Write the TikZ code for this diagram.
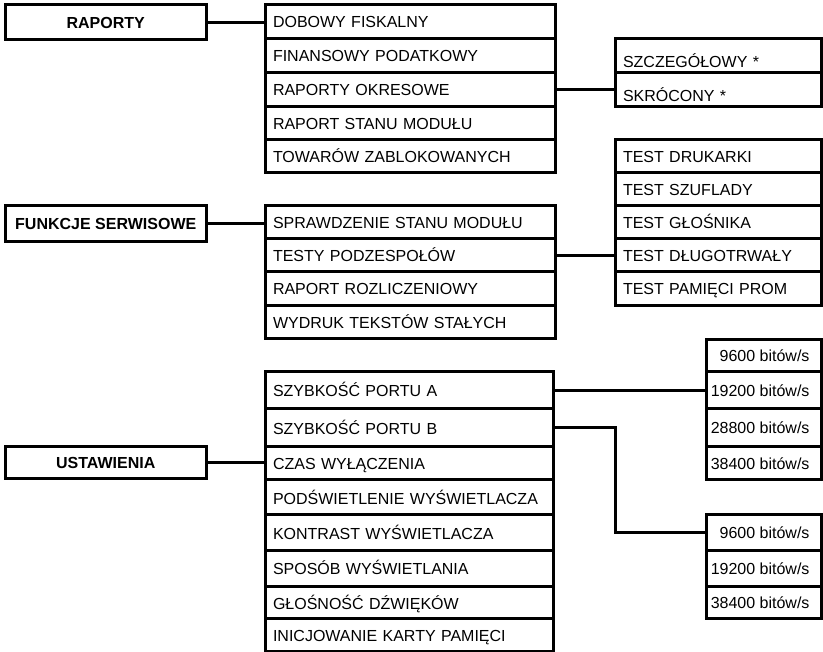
\documentclass[tikz,border=0pt]{standalone}
\usepackage{fontspec}
\setmainfont{Liberation Sans}
\newcommand\baudtext[1]{\makebox[115.5pt][r]{#1\hspace{12pt}}}
\begin{document}
\begin{tikzpicture}[x=1pt,y=-1pt,
  box/.style={draw, line width=3pt, inner sep=0pt, outer sep=0pt, anchor=north west,
    font=\fontsize{16}{19}\selectfont, text height=12pt, text depth=0pt},
  head/.style={box, font=\fontsize{16}{19}\selectfont\bfseries, minimum width=201.5pt, minimum height=#1},
  lrow/.style={box, text width=274pt, inner xsep=8pt, align=left, minimum height=#1},
  lrowb/.style={box, text width=272pt, inner xsep=8pt, align=left, minimum height=#1, text height=13.5pt},
  rrow/.style={box, text width=190.5pt, inner xsep=8pt, align=left, minimum height=#1},
  baud/.style={box, inner xsep=0pt, minimum width=115.5pt, minimum height=#1},
  conn/.style={line width=3pt}]
\useasboundingbox (0,0) rectangle (823,652);

% headers
\node[head=34.5pt] (hrap) at (5,5) {RAPORTY};
\node[head=36pt] (hfun) at (5,205.5) {FUNKCJE SERWISOWE};
\node[head=31.5pt] (hust) at (5,447) {USTAWIENIA};

% RAPORTY submenu
\node[lrow=33.5pt] (r1a) at (265,5) {DOBOWY FISKALNY};
\node[lrow=34pt] (r1b) at (265,38.5) {FINANSOWY PODATKOWY};
\node[lrow=34pt] (r1c) at (265,72.5) {RAPORTY OKRESOWE};
\node[lrow=33.5pt] (r1d) at (265,106.5) {RAPORT STANU MODUŁU};
\node[lrow=33pt] (r1e) at (265,140) {TOWARÓW ZABLOKOWANYCH};

% RAPORTY OKRESOWE submenu
\node[rrow=34pt, text height=25pt] (s1) at (615,38.5) {SZCZEGÓŁOWY *};
\node[rrow=34pt, text height=25pt] (s2) at (615,72.5) {SKRÓCONY *};

% tests
\node[rrow=33.5pt] (t1) at (615,139.5) {TEST DRUKARKI};
\node[rrow=33pt] (t2) at (615,173) {TEST SZUFLADY};
\node[rrow=32.5pt] (t3) at (615,206) {TEST GŁOŚNIKA};
\node[rrow=33.5pt] (t4) at (615,238.5) {TEST DŁUGOTRWAŁY};
\node[rrow=34pt] (t5) at (615,272) {TEST PAMIĘCI PROM};

% FUNKCJE SERWISOWE submenu
\node[lrow=32.5pt] (r2a) at (265,206) {SPRAWDZENIE STANU MODUŁU};
\node[lrow=33.5pt] (r2b) at (265,238.5) {TESTY PODZESPOŁÓW};
\node[lrow=34pt] (r2c) at (265,272) {RAPORT ROZLICZENIOWY};
\node[lrow=32.5pt] (r2d) at (265,306) {WYDRUK TEKSTÓW STAŁYCH};

% USTAWIENIA submenu
\node[lrowb=36.5pt] (r3a) at (265,372) {SZYBKOŚĆ PORTU A};
\node[lrowb=38pt] (r3b) at (265,408.5) {SZYBKOŚĆ PORTU B};
\node[lrowb=33.5pt] (r3c) at (265,446.5) {CZAS WYŁĄCZENIA};
\node[lrowb=35pt] (r3d) at (265,480) {PODŚWIETLENIE WYŚWIETLACZA};
\node[lrowb=35.5pt] (r3e) at (265,515) {KONTRAST WYŚWIETLACZA};
\node[lrowb=35.5pt] (r3f) at (265,550.5) {SPOSÓB WYŚWIETLANIA};
\node[lrowb=32.5pt] (r3g) at (265,586) {GŁOŚNOŚĆ DŹWIĘKÓW};
\node[lrowb=32.5pt] (r3h) at (265,618.5) {INICJOWANIE KARTY PAMIĘCI};

% port A speeds
\node[baud=32pt] (a1) at (706,340) {\baudtext{9600 bitów/s}};
\node[baud=36.5pt] (a2) at (706,372) {\baudtext{19200 bitów/s}};
\node[baud=38pt] (a3) at (706,408.5) {\baudtext{28800 bitów/s}};
\node[baud=33.5pt] (a4) at (706,446.5) {\baudtext{38400 bitów/s}};

% port B speeds
\node[baud=35.5pt] (b1) at (706,515) {\baudtext{9600 bitów/s}};
\node[baud=35.5pt] (b2) at (706,550.5) {\baudtext{19200 bitów/s}};
\node[baud=32.5pt] (b3) at (706,586) {\baudtext{38400 bitów/s}};

% connectors
\draw[conn] (hrap.east) -- (hrap.east -| r1a.west);
\draw[conn] (r1c.east) -- (s2.west);
\draw[conn] (hfun.east) -- (hfun.east -| r2a.west);
\draw[conn] (r2b.east) -- (t4.west);
\draw[conn] (hust.east) -- (hust.east -| r3c.west);
\draw[conn] (r3a.east) -- (a2.west);
\draw[conn] (r3b.east) -- ++(62,0) |- (b1.west);
\end{tikzpicture}
\end{document}
